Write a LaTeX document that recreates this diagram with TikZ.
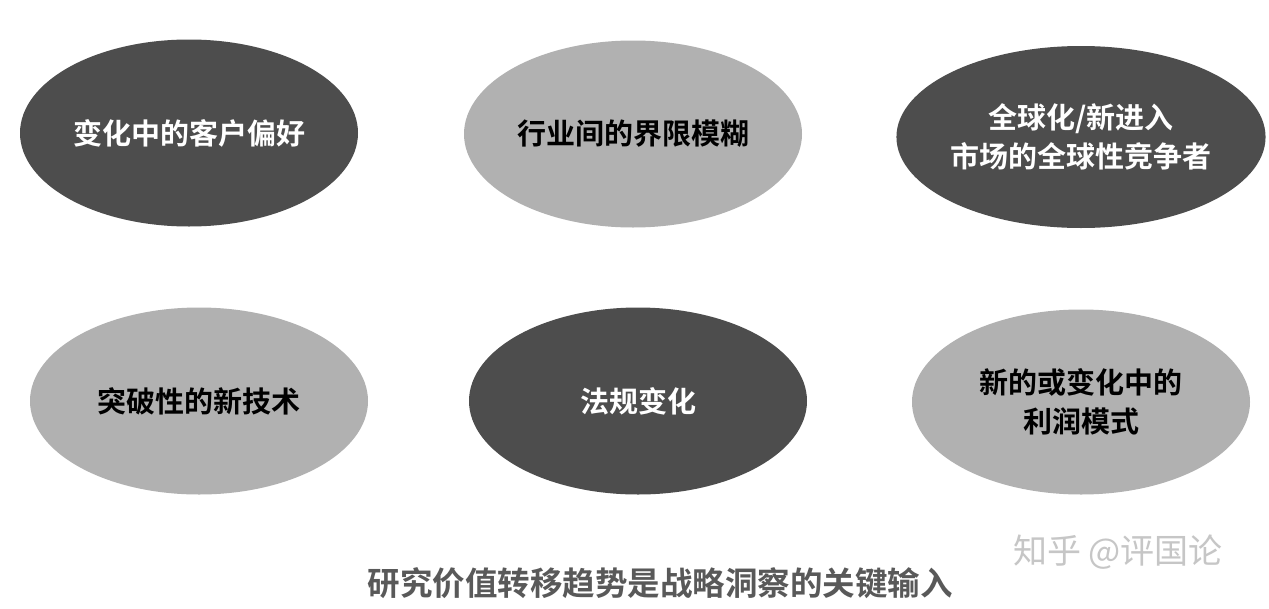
\documentclass[tikz,border=0pt]{standalone}
\usepackage{fontspec}
\newfontfamily\cjk{Noto Sans CJK SC}[BoldFont={* Bold}]
\newfontfamily\cjkl{Noto Sans CJK SC}
\usetikzlibrary{shapes.geometric}
\definecolor{darkfill}{HTML}{4D4D4D}
\definecolor{lightfill}{HTML}{B1B1B1}
\definecolor{captiongray}{HTML}{595959}
\begin{document}
\begin{tikzpicture}[x=1pt,y=-1pt,
  oval/.style={ellipse,minimum width=338pt,minimum height=187pt,inner sep=0pt,
    align=center,font=\cjk\bfseries\fontsize{29pt}{39pt}\selectfont},
  darkoval/.style={oval,fill=darkfill,text=white},
  lightoval/.style={oval,fill=lightfill,text=black}]
\useasboundingbox[fill=white] (0,0) rectangle (1269,608);
\node[darkoval]  (e1) at (189,133) {变化中的客户偏好};
\node[lightoval] (e2) at (633,134) {行业间的界限模糊};
\node[darkoval,minimum height=182pt]  (e3) at (1081,137) {全球化/新进入\\市场的全球性竞争者};
\node[lightoval] (e4) at (199,401) {突破性的新技术};
\node[darkoval]  (e5) at (638,401) {法规变化};
\node[lightoval,minimum height=185pt] (e6) at (1081,402) {新的或变化中的\\利润模式};
\node[font=\cjk\bfseries\fontsize{32.5pt}{36pt}\selectfont,text=captiongray] (cap) at (660,583) {研究价值转移趋势是战略洞察的关键输入};
\node[font=\cjkl\fontsize{34pt}{38pt}\selectfont,text=gray!45] (wm) at (1118,552) {知乎 @评国论};
\end{tikzpicture}
\end{document}
